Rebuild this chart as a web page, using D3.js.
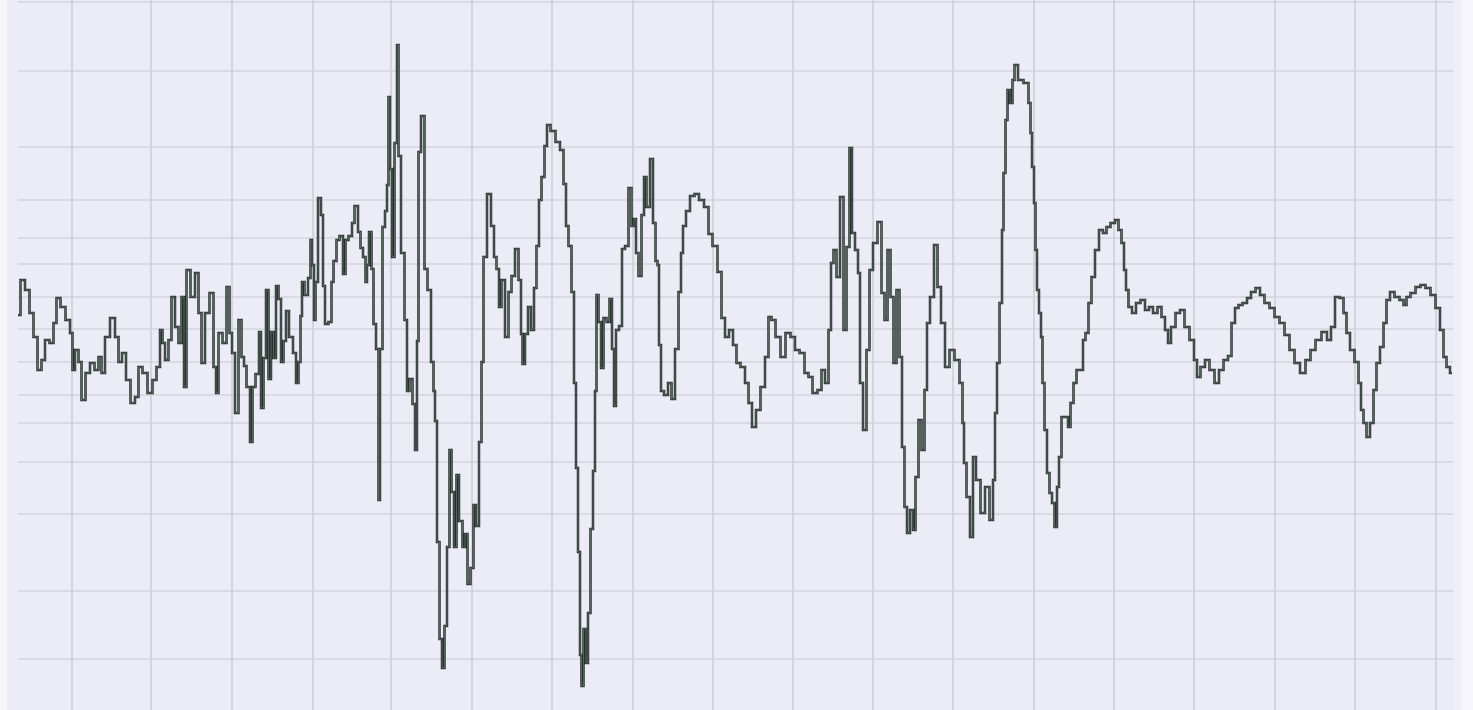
<!DOCTYPE html>
<html>
<head>
<meta charset="utf-8">
<script src="https://cdn.jsdelivr.net/npm/d3@7"></script>
<style>
  html, body { margin: 0; padding: 0; background: #f7f7fb; overflow: hidden; }
</style>
</head>
<body>
<script>
// sample index of each reading
var sampleT = [0,5,9,14,17,22,25,29,34,37,40,45,50,54,55,59,62,65,70,74,79,82,85,89,95,99,102,106,110,115,119,122,127,132,137,140,144,145,149,152,155,159,162,165,167,170,175,179,182,185,189,194,197,199,202,207,210,213,215,219,222,225,
  227,230,234,235,240,242,244,247,249,252,254,257,259,262,264,267,269,273,277,279,282,283,285,288,292,293,295,297,298,302,304,306,308,313,314,317,320,323,327,328,333,335,338,342,343,347,348,350,352,355,356,360,361,363,366,368,370,371,373,375,378,380,381,385,388,390,393,396,398,400,401,405,408,411,415,416,418,420,423,425,428,430,433,434,438,439,443,446,448,451,454,457,459,463,464,467,471,
  475,477,480,482,485,489,492,495,499,502,504,505,509,511,515,517,520,522,525,528,530,535,540,544,547,549,552,555,557,559,561,563,564,567,569,571,574,576,578,579,582,584,587,590,593,595,597,599,603,605,609,612,615,617,619,622,625,627,630,634,636,639,640,642,644,648,652,655,659,662,664,666,670,674,679,683,689,692,697,702,705,709,713,
  717,720,725,729,732,736,740,745,749,752,755,760,765,770,775,779,784,789,792,797,802,805,809,812,814,817,820,824,827,830,833,835,839,841,843,847,850,853,857,862,865,868,871,874,877,880,883,885,888,890,894,896,899,902,905,908,910,914,918,921,925,929,934,939,944,945,947,950,954,956,960,
  965,969,974,976,978,980,983,985,986,989,990,994,995,998,1002,1009,1012,1013,1015,1017,1018,1020,1022,1024,1025,1028,1030,1033,1035,1038,1040,1042,1045,1049,1051,1054,1057,1060,1064,1066,1069,1072,1075,1079,1083,1087,1090,1095,1099,1102,1105,1107,1109,1112,1116,1120,1125,1129,1133,1137,1142,1145,1149,1151,1155,1160,1164,1169,1174,1178,1180,1185,1189,1194,1199,1203,1208,1212,
  1215,1219,1222,1227,1231,1235,1240,1244,1249,1254,1259,1264,1269,1274,1279,1285,1290,1295,1300,1307,1311,1315,1319,1324,1327,1330,1334,1339,1342,1344,1347,1350,1354,1357,1360,1364,1367,1370,1374,1379,1384,1387,1390,1395,1400,1405,1410,1415,1420,1424,1427,1430,1434];

// signal amplitude at each sample
var amplitude = [15,50,40,17,-7,-40,-30,-10,-13,7,32,23,10,-3,-40,-20,-32,-70,-43,-33,-40,-27,-43,-7,12,-7,-32,-23,-50,-73,-67,-37,-43,-63,-50,-37,0,-13,-30,-10,33,3,-13,33,-57,60,33,57,17,-33,17,37,-37,-63,-3,-13,43,-3,-23,-83,10,-27,
  -36,-57,-112,-57,-44,-2,-78,-28,40,-49,-2,-28,44,31,-32,-11,19,-7,-23,-53,-32,14,48,35,52,90,65,10,48,132,115,44,6,8,48,69,90,94,56,90,94,107,124,98,82,73,48,65,98,61,6,-19,-170,-19,103,119,145,233,161,73,187,285,174,77,10,-61,-49,-74,-120,-11,178,214,61,40,-32,-61,-91,-212,-309,-338,-296,-217,-120,-162,-217,-145,-191,-217,-204,-254,-238,-175,-196,-112,-32,73,136,
  104,73,61,23,50,-7,38,54,81,50,-4,-34,-4,23,0,42,84,130,153,184,205,199,188,180,146,104,84,38,-53,-138,-222,-325,-356,-299,-333,-283,-199,-141,-61,35,8,-38,12,8,31,-19,-76,0,4,81,84,142,104,111,77,54,115,153,123,171,107,69,65,-15,-61,-65,-53,-69,-19,38,77,104,119,134,136,130,123,96,84,58,12,-7,0,
  -15,-33,-37,-53,-73,-97,-80,-57,-27,13,10,-7,-27,-3,-7,-20,-23,-43,-47,-63,-60,-40,-53,0,67,80,53,133,0,83,182,97,80,57,-53,-100,-20,60,87,108,37,10,80,33,-33,40,-27,-117,-177,-203,-180,-200,-147,-90,-120,-60,7,33,85,43,7,-37,-20,-30,-53,-93,-133,-167,-207,-127,-150,
  -183,-157,-190,-150,-83,-33,27,100,157,210,240,227,250,265,250,247,227,197,163,127,80,40,17,-7,-53,-100,-143,-163,-173,-197,-157,-127,-87,-87,-97,-73,-53,-40,-40,-10,-3,27,53,80,100,97,103,107,110,100,87,60,40,23,17,27,30,20,23,17,23,13,0,-13,3,17,20,3,-10,-30,-47,-37,-30,-40,-53,-40,-30,-26,
  7,22,25,27,32,38,42,35,27,22,13,7,-5,-20,-33,-43,-30,-20,-10,-2,-10,3,33,32,17,-3,-20,-32,-53,-80,-93,-107,-93,-60,-33,-17,7,30,38,33,30,25,33,37,43,45,42,35,22,0,-27,-37,-43];

// grid positions
var timeTicks = [54,133,214,295,373,454,534,615,695,775,855,935,1016,1096,1176,1257,1337,1418];
var ampTicks = [328,259,183,130,92,66,33,1,-32,-65,-93,-132,-184,-261,-329];

var data = sampleT.map(function(t, i) { return {t: t, v: amplitude[i]}; });

var width = 1473;
var height = 710;

var svg = d3.select("body")
    .append("svg")
    .attr("width", width)
    .attr("height", height);

svg.append("rect")
    .attr("x", 0).attr("y", 0)
    .attr("width", width).attr("height", height)
    .attr("fill", "#f7f7fb");

svg.append("rect")
    .attr("x", 7).attr("y", 0)
    .attr("width", 1455).attr("height", height)
    .attr("fill", "#ececf6");

svg.append("rect")
    .attr("x", 1454).attr("y", 0)
    .attr("width", 8).attr("height", height)
    .attr("fill", "#efeff8");

const x = d3.scaleLinear()
    .domain([0, 1434])
    .range([18, 1452]);

const y = d3.scaleLinear()
    .domain([-330, 330])
    .range([660, 0]);

// horizontal grid
svg.append("g")
    .selectAll("line")
    .data(ampTicks)
    .enter()
    .append("line")
    .attr("x1", 18)
    .attr("x2", 1453)
    .attr("y1", d => y(d))
    .attr("y2", d => y(d))
    .attr("stroke", "#d4d4df")
    .attr("stroke-width", 1.6);

// vertical grid
svg.append("g")
    .selectAll("line")
    .data(timeTicks)
    .enter()
    .append("line")
    .attr("x1", d => x(d))
    .attr("x2", d => x(d))
    .attr("y1", 0)
    .attr("y2", height)
    .attr("stroke", "#d2d2dd")
    .attr("stroke-width", 1.8);

var line = d3.line()
    .curve(d3.curveStep)
    .x(d => x(d.t))
    .y(d => y(d.v));

svg.append("path")
    .datum(data)
    .attr("d", line)
    .attr("fill", "none")
    .attr("stroke", "#26302c")
    .attr("stroke-width", 2.5);

svg.append("path")
    .datum(data)
    .attr("d", line)
    .attr("fill", "none")
    .attr("stroke", "#d3ddd6")
    .attr("stroke-width", 0.6)
    .attr("stroke-opacity", 0.5);
</script>
</body>
</html>
